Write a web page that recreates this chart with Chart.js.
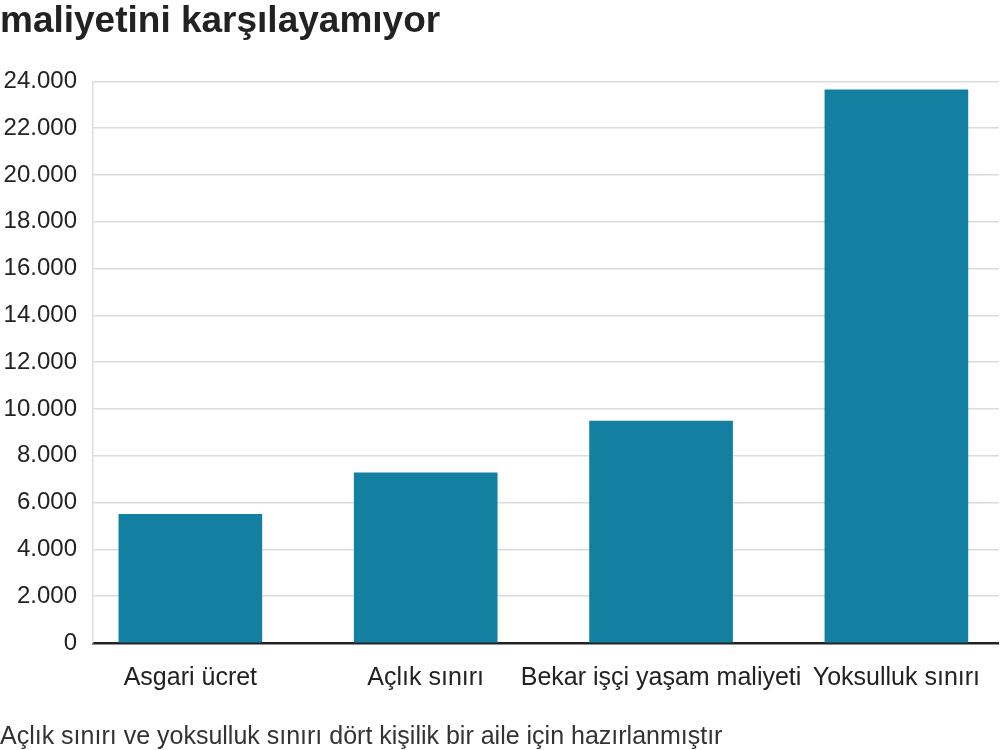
<!DOCTYPE html>
<html lang="tr">
<head>
<meta charset="utf-8">
<title>Asgari ücret</title>
<script src="https://cdn.jsdelivr.net/npm/chart.js@4.4.1/dist/chart.umd.min.js"></script>
<style>
  html, body { margin: 0; padding: 0; background: #fff; }
  #wrap { position: relative; width: 1000px; height: 750px; overflow: hidden; }
</style>
</head>
<body>
<div id="wrap"><canvas id="chart"></canvas></div>
<script>
// Kategoriler ve değerler (TL)
const categories = ['Asgari ücret', 'Açlık sınırı', 'Bekar işçi yaşam maliyeti', 'Yoksulluk sınırı'];
const values = [5500, 7270, 9480, 23640];
const categoryIndex = [0, 1, 2, 3];
const yTicks = [0, 2000, 4000, 6000, 8000, 10000, 12000, 14000, 16000, 18000, 20000, 22000, 24000];

const titleText = 'maliyetini karşılayamıyor';
const noteText = 'Açlık sınırı ve yoksulluk sınırı dört kişilik bir aile için hazırlanmıştır';

const barColor = '#1380A1';
const fontFamily = '"Liberation Sans", Arial, Helvetica, sans-serif';

// binlik ayırıcı nokta
function formatTR(v) {
  return String(v).replace(/\B(?=(\d{3})+(?!\d))/g, '.');
}

const canvas = document.getElementById('chart');

new Chart(canvas, {
  type: 'bar',
  data: {
    datasets: [{
      data: categoryIndex.map((x, i) => ({ x: x, y: values[i] })),
      backgroundColor: barColor,
      borderWidth: 0,
      barThickness: 143
    }]
  },
  options: {
    responsive: true,
    maintainAspectRatio: false,
    animation: false,
    layout: { padding: { left: 0, right: 0, top: 0, bottom: 0 } },
    plugins: {
      legend: { display: false },
      tooltip: { enabled: false },
      title: {
        display: true,
        text: titleText,
        align: 'start',
        color: '#222',
        font: { family: fontFamily, size: 37, weight: 'bold', lineHeight: 1.2 },
        padding: { top: 0, bottom: 37 }
      },
      subtitle: {
        display: true,
        position: 'bottom',
        text: noteText,
        align: 'start',
        color: '#333',
        font: { family: fontFamily, size: 25, lineHeight: 1.0 },
        padding: { top: 12, bottom: 0 }
      }
    },
    scales: {
      x: {
        type: 'linear',
        offset: false,
        z: 1,
        min: -0.4137,
        max: 3.4349,
        grid: { display: false, drawTicks: false },
        border: { display: true, color: '#222', width: 2.5 },
        ticks: {
          stepSize: 1,
          includeBounds: false,
          autoSkip: false,
          maxRotation: 0,
          padding: 20,
          color: '#222',
          font: { family: fontFamily, size: 25 },
          callback: (v) => categories[v] !== undefined ? categories[v] : ''
        }
      },
      y: {
        min: 0,
        max: 24000,
        afterFit: (scale) => { scale.width = 93; },
        afterBuildTicks: (scale) => { scale.ticks = yTicks.map(v => ({ value: v })); },
        grid: {
          drawTicks: false,
          lineWidth: 1.5,
          color: (ctx) => ctx.tick && ctx.tick.value === 0 ? 'rgba(0,0,0,0)' : '#dcdcdc'
        },
        border: { display: true, color: '#dcdcdc', width: 1.5 },
        ticks: {
          padding: 16,
          color: '#222',
          font: { family: fontFamily, size: 24 },
          callback: (v) => formatTR(v)
        }
      }
    }
  }
});
</script>
</body>
</html>
